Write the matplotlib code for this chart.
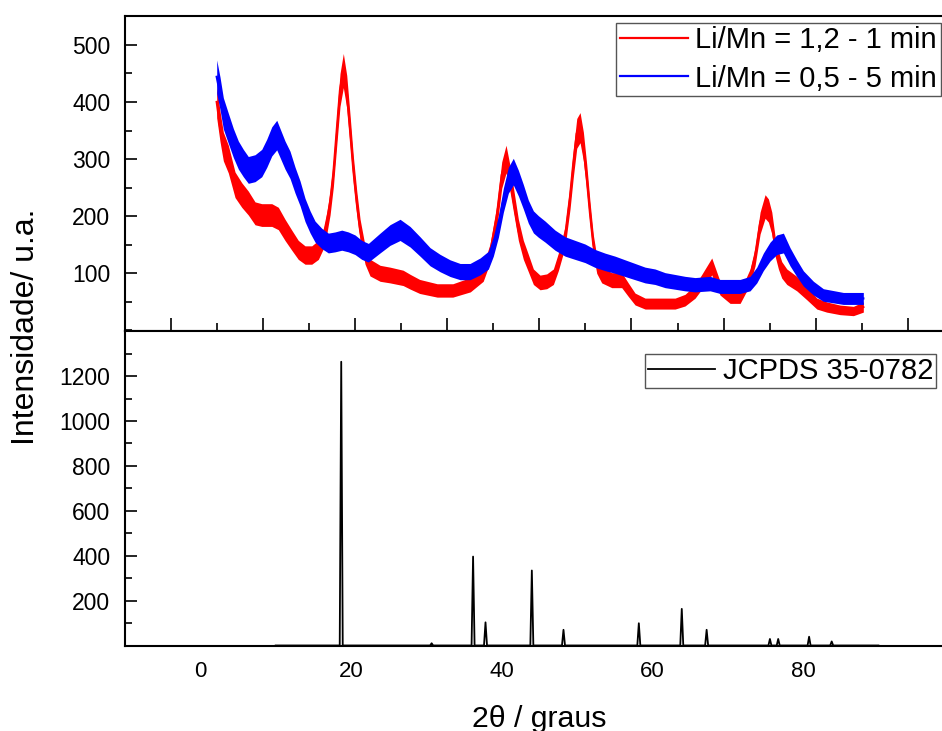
import numpy as np
import matplotlib
matplotlib.use("Agg")
import matplotlib.pyplot as plt
from matplotlib.ticker import MultipleLocator, FixedLocator

plt.rcParams['font.family'] = ['Liberation Sans', 'DejaVu Sans']

# ---------------- data ----------------
# upper panel: 2theta (upper-panel scale) and intensity
red_x = [4.96, 5.32, 5.68, 6.22, 6.95, 7.68, 8.39, 9.12, 9.85, 10.94, 11.65, 12.38,
         13.11, 13.82, 14.55, 15.28, 16.0, 16.54, 16.91, 17.27, 17.63, 18.0, 18.35,
         18.71, 19.08, 19.44, 19.8, 20.17, 20.53, 21.07, 21.61, 22.7, 23.78, 25.2,
         26.0, 27.0, 28.9, 30.6, 32.5, 33.9, 34.64, 35.37, 35.91, 36.38, 36.82,
         37.17, 37.72, 38.26, 38.8, 39.35, 40.07, 40.8, 41.52, 42.06, 42.79, 43.33,
         43.69, 44.06, 44.42, 44.78, 45.14, 45.5, 45.86, 46.23, 46.77, 47.86, 48.94,
         49.67, 50.39, 51.48, 53.29, 54.74, 55.82, 56.91, 57.63, 58.72, 59.62, 60.71,
         61.8, 62.88, 63.42, 63.97, 64.51, 64.87, 65.24, 65.6, 65.96, 66.32, 66.87,
         67.95, 69.04, 70.13, 71.2, 72.65, 74.1, 75.18]
red_y = [400, 357, 322, 300, 255, 237, 223, 205, 202, 202, 196, 176,
         158, 141, 132, 132, 141, 161, 188, 223, 275, 351, 421,
         455, 418, 351, 281, 223, 176, 132, 110, 100, 97, 92,
         85, 77, 70, 70, 80, 100, 135, 199, 272, 300, 265,
         230, 176, 141, 118, 94, 84, 86, 94, 120, 164, 234,
         293, 345, 355, 322, 268, 205, 150, 115, 97, 88, 88,
         71, 55, 47, 47, 47, 53, 68, 85, 112, 74, 58,
         58, 94, 129, 188, 217, 210, 188, 147, 123, 106, 94,
         82, 65, 47, 41, 36, 34, 41]

blue_x = [4.96, 5.32, 5.68, 6.22, 6.77, 7.31, 7.85, 8.39, 9.12, 9.85, 10.39, 10.94,
          11.48, 11.84, 12.38, 12.92, 13.47, 14.01, 14.55, 15.1, 15.64, 16.37, 17.08,
          17.81, 18.54, 19.25, 19.98, 20.71, 21.43, 22.7, 23.78, 24.87, 25.96, 27.04,
          28.13, 29.21, 30.3, 31.39, 32.47, 33.56, 34.46, 35.0, 35.55, 36.09, 36.63,
          37.17, 37.72, 38.26, 38.8, 39.35, 39.89, 40.62, 41.7, 42.79, 43.87, 44.96,
          46.05, 47.13, 48.22, 49.3, 50.39, 51.48, 52.56, 53.65, 54.74, 55.82, 56.91,
          58.54, 59.62, 60.71, 61.8, 62.88, 63.61, 64.32, 65.05, 65.78, 66.5, 67.22,
          67.95, 68.67, 69.76, 70.84, 71.93, 73.01, 74.1, 75.18]
blue_y = [444, 415, 380, 354, 328, 307, 293, 281, 284, 293, 310, 331,
          342, 328, 307, 290, 263, 240, 211, 190, 173, 161, 153,
          155, 158, 155, 150, 141, 136, 153, 167, 176, 164, 147,
          129, 118, 109, 103, 103, 112, 123, 147, 182, 228, 263,
          278, 258, 234, 208, 190, 182, 173, 158, 147, 141, 135,
          126, 120, 115, 109, 103, 97, 94, 88, 85, 82, 80,
          82, 77, 77, 77, 82, 97, 120, 138, 150, 153, 129,
          109, 91, 74, 62, 59, 56, 56, 56]

# lower panel: JCPDS 35-0782 reference reflections
ref_pos = [18.7, 30.7, 36.2, 37.85, 44.0, 48.2, 58.2, 63.9, 67.2, 75.6, 76.7, 80.8, 83.8]
ref_int = [1264, 10, 396, 103, 334, 70, 99, 163, 70, 29, 29, 39, 18]

series_labels = ["Li/Mn = 1,2 - 1 min", "Li/Mn = 0,5 - 5 min"]
ref_label = "JCPDS 35-0782"
top_yticks = [100, 200, 300, 400, 500]
bottom_yticks = [200, 400, 600, 800, 1000, 1200]
bottom_xticks = [0, 20, 40, 60, 80]
xlabel = "2\u03b8 / graus"
ylabel = "Intensidade/ u.a."

# ---------------- figure ----------------
W, H = 942, 731
fig = plt.figure(figsize=(W / 100, H / 100), dpi=100)


def frac(l, t, r, b):
    return [l / W, 1 - b / H, (r - l) / W, (b - t) / H]


ax1 = fig.add_axes(frac(125, 15.7, 953.75, 331))
ax2 = fig.add_axes(frac(125, 331, 953.75, 645.7))

# noisy patterns: central trace plus counting-noise band
for xs, ys, col, lab, z in [(red_x, red_y, '#ff0000', series_labels[0], 2),
                            (blue_x, blue_y, '#0000ff', series_labels[1], 3)]:
    xs = np.asarray(xs, float)
    ys = np.asarray(ys, float)
    band = 1.4 * np.sqrt(ys)
    ax1.fill_between(xs, ys - band, ys + band, color=col, lw=0, zorder=z)
    ax1.plot(xs, ys, color=col, lw=1.6, label=lab, zorder=z)

ax1.set_xlim(-5, 85)
ax1.set_ylim(-1, 551)
ax1.xaxis.set_major_locator(MultipleLocator(10))
ax1.xaxis.set_minor_locator(MultipleLocator(5))
ax1.yaxis.set_major_locator(FixedLocator(top_yticks))
ax1.yaxis.set_minor_locator(MultipleLocator(50))
ax1.tick_params(axis='x', which='major', direction='in', length=9.4, width=1.2,
                labelbottom=False, top=False)
ax1.tick_params(axis='x', which='minor', direction='in', length=5.8, width=1.2, top=False)
ax1.tick_params(axis='y', which='major', direction='in', length=8.6, width=1.2,
                labelsize=16.5, pad=10.5, right=False)
ax1.tick_params(axis='y', which='minor', direction='in', length=5.0, width=1.2, right=False)

leg1 = ax1.legend(loc='upper right', bbox_to_anchor=(941 / W, 1 - 22.7 / H),
                  bbox_transform=fig.transFigure, borderaxespad=0, fontsize=21,
                  handlelength=2.35, handletextpad=0.25, labelspacing=0.35,
                  borderpad=0.13, fancybox=False, framealpha=1)
leg1.get_frame().set_edgecolor('#555555')
leg1.get_frame().set_linewidth(1.0)

# reference stick pattern drawn as a narrow-peak profile
px, py = [10.0], [0.0]
for p, h in zip(ref_pos, ref_int):
    px += [p - 0.2, p, p + 0.2]
    py += [0.0, h, 0.0]
px.append(90.0)
py.append(0.0)
ax2.plot(px, py, color='black', lw=1.3, label=ref_label)

ax2.set_xlim(-10, 100)
ax2.set_ylim(-1, 1401)
ax2.set_xticks(bottom_xticks)
ax2.yaxis.set_major_locator(FixedLocator(bottom_yticks))
ax2.yaxis.set_minor_locator(FixedLocator([100, 300, 500, 700, 900, 1100, 1300]))
ax2.tick_params(axis='x', which='both', length=0, labelsize=16, pad=11.0)
ax2.tick_params(axis='y', which='major', direction='in', length=8.6, width=1.2,
                labelsize=16.5, pad=10.5, right=False)
ax2.tick_params(axis='y', which='minor', direction='in', length=5.0, width=1.2, right=False)

leg2 = ax2.legend(loc='upper right', bbox_to_anchor=(936 / W, 1 - 354 / H),
                  bbox_transform=fig.transFigure, borderaxespad=0, fontsize=21,
                  handlelength=2.3, handletextpad=0.27, borderpad=0.1,
                  fancybox=False, framealpha=1)
leg2.get_frame().set_edgecolor('#555555')
leg2.get_frame().set_linewidth(1.0)

for ax in (ax1, ax2):
    for sp in ax.spines.values():
        sp.set_linewidth(1.5)

fig.text(539.4 / W, 1 - 726.7 / H, xlabel, ha='center', va='baseline', fontsize=21.8)
fig.text(25.6 / W, 1 - 326.5 / H, ylabel, ha='center', va='center', rotation=90,
         fontsize=23)

fig.savefig('out.png', dpi=100)
